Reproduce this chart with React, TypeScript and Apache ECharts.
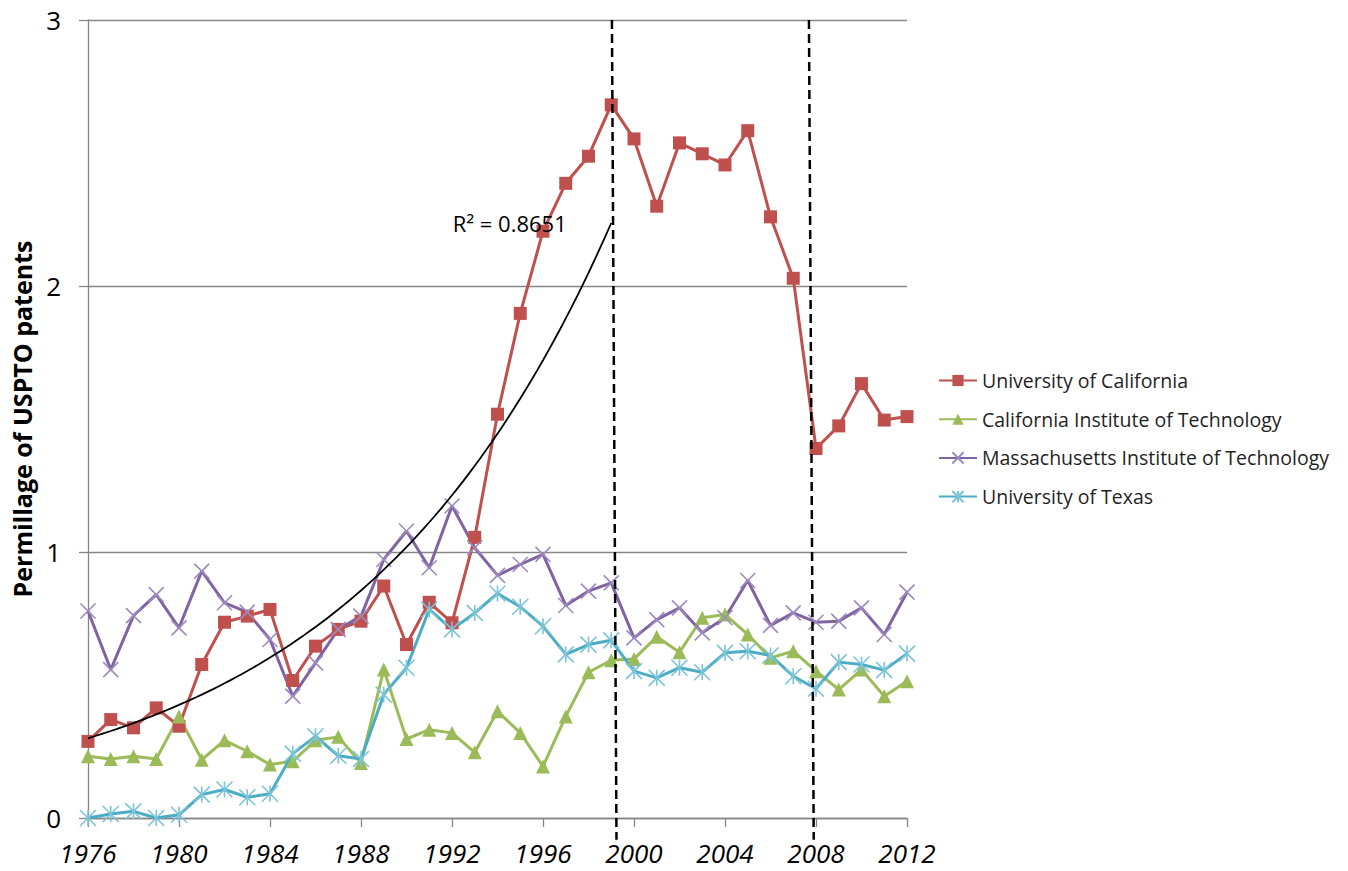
import React, { useEffect, useRef } from "react";
import * as echarts from "echarts";

const years = [
  1976, 1977, 1978, 1979, 1980, 1981, 1982, 1983, 1984, 1985, 1986, 1987, 1988,
  1989, 1990, 1991, 1992, 1993, 1994, 1995, 1996, 1997, 1998, 1999, 2000, 2001,
  2002, 2003, 2004, 2005, 2006, 2007, 2008, 2009, 2010, 2011, 2012,
];

const ucValues = [
  0.288, 0.37, 0.339, 0.414, 0.345, 0.577, 0.736, 0.759, 0.784, 0.517, 0.646,
  0.709, 0.74, 0.872, 0.652, 0.811, 0.734, 1.055, 1.518, 1.897, 2.206, 2.386,
  2.488, 2.681, 2.553, 2.3, 2.538, 2.497, 2.455, 2.584, 2.26, 2.029, 1.389,
  1.474, 1.633, 1.496, 1.509,
];

const caltechValues = [
  0.232, 0.222, 0.232, 0.222, 0.382, 0.219, 0.292, 0.251, 0.201, 0.213, 0.292,
  0.305, 0.207, 0.558, 0.297, 0.332, 0.32, 0.247, 0.401, 0.32, 0.194, 0.382,
  0.548, 0.593, 0.598, 0.681, 0.623, 0.753, 0.765, 0.69, 0.602, 0.627, 0.552,
  0.483, 0.558, 0.458, 0.514,
];

const mitValues = [
  0.778, 0.558, 0.761, 0.84, 0.715, 0.928, 0.809, 0.774, 0.671, 0.458, 0.583,
  0.709, 0.759, 0.972, 1.079, 0.941, 1.173, 1.016, 0.912, 0.953, 0.991, 0.799,
  0.853, 0.884, 0.677, 0.746, 0.79, 0.696, 0.753, 0.893, 0.724, 0.771, 0.736,
  0.74, 0.79, 0.69, 0.849,
];

const utValues = [
  0.0, 0.015, 0.025, 0.0, 0.012, 0.088, 0.107, 0.078, 0.091, 0.242, 0.307,
  0.234, 0.222, 0.464, 0.565, 0.784, 0.709, 0.771, 0.844, 0.794, 0.721, 0.615,
  0.652, 0.668, 0.552, 0.527, 0.565, 0.548, 0.621, 0.627, 0.611, 0.533, 0.486,
  0.586, 0.577, 0.556, 0.618,
];

const seriesNames = [
  "University of California",
  "California Institute of Technology",
  "Massachusetts Institute of Technology",
  "University of Texas",
];

// Exponential trend fitted to University of California, 1976–1999
const trendStartYear = 1976;
const trendEndYear = 1999;
const trendLabel = "R² = 0.8651";

// Dashed reference lines: [xTop, yTop, xBottom, yBottom]
const dashedLines = [
  [1999.03, 3, 1999.23, -0.082],
  [2007.69, 3, 2007.9, -0.082],
];

function fitExponential(xs: number[], ys: number[]) {
  const n = xs.length;
  const lx = xs.map((x) => x - xs[0]);
  const ly = ys.map((y) => Math.log(y));
  const mx = lx.reduce((a, b) => a + b, 0) / n;
  const my = ly.reduce((a, b) => a + b, 0) / n;
  let sxy = 0;
  let sxx = 0;
  for (let i = 0; i < n; i++) {
    sxy += (lx[i] - mx) * (ly[i] - my);
    sxx += (lx[i] - mx) * (lx[i] - mx);
  }
  const b = sxy / sxx;
  const a = Math.exp(my - b * mx);
  return { a, b, x0: xs[0] };
}

const FONT = "'Open Sans', sans-serif";

export default function App() {
  const ref = useRef<HTMLDivElement>(null);

  useEffect(() => {
    if (!ref.current) return;
    const chart = echarts.init(ref.current, undefined, { renderer: "svg" });

    const fitIdx = years
      .map((y, i) => i)
      .filter((i) => years[i] >= trendStartYear && years[i] <= trendEndYear);
    const fit = fitExponential(
      fitIdx.map((i) => years[i]),
      fitIdx.map((i) => ucValues[i])
    );
    const trendData: number[][] = [];
    for (let t = trendStartYear; t <= trendEndYear + 1e-9; t += 0.25) {
      trendData.push([t, fit.a * Math.exp(fit.b * (t - fit.x0))]);
    }
    const trendEnd = trendData[trendData.length - 1];

    const pair = (vals: number[]) => years.map((y, i) => [y, vals[i]]);

    const xPath = "path://M0,0L10,10M10,0L0,10";
    const starPath = "path://M0,0L10,10M10,0L0,10M5,0L5,10";

    const option: any = {
      animation: false,
      backgroundColor: "#ffffff",
      grid: { left: 88, top: 20, right: 441, bottom: 53, containLabel: false },
      legend: {
        orient: "vertical",
        left: 933,
        top: 364,
        itemWidth: 38,
        itemHeight: 14,
        itemGap: 15.7,
        textStyle: {
          fontFamily: FONT,
          fontSize: 19.5,
          color: "#1f1f1f",
          lineHeight: 23,
        },
        data: seriesNames,
      },
      xAxis: {
        type: "value",
        min: 1976,
        max: 2012,
        interval: 4,
        axisLine: { show: true, lineStyle: { color: "#868686", width: 1.3 } },
        axisTick: { show: true, length: 9, lineStyle: { color: "#868686", width: 1.3 } },
        splitLine: { show: false },
        axisLabel: {
          fontFamily: FONT,
          fontSize: 26,
          fontStyle: "italic",
          color: "#000",
          margin: 22,
          formatter: (v: number) => String(v),
        },
      },
      yAxis: {
        type: "value",
        min: 0,
        max: 3,
        interval: 1,
        name: "Permillage of USPTO patents",
        nameLocation: "middle",
        nameGap: 54,
        nameRotate: 90,
        nameTextStyle: {
          fontFamily: FONT,
          fontSize: 25,
          fontWeight: "bold",
          color: "#000",
        },
        axisLine: { show: true, lineStyle: { color: "#868686", width: 1.3 } },
        axisTick: { show: true, length: 9, lineStyle: { color: "#868686", width: 1.3 } },
        splitLine: { show: true, lineStyle: { color: "#868686", width: 1.3 } },
        axisLabel: {
          fontFamily: FONT,
          fontSize: 26,
          color: "#000",
          margin: 27,
        },
      },
      series: [
        {
          name: seriesNames[0],
          type: "line",
          data: pair(ucValues),
          symbol: "rect",
          symbolSize: 13,
          lineStyle: { color: "#C0504D", width: 3 },
          itemStyle: { color: "#C0504D" },
          z: 3,
        },
        {
          name: seriesNames[1],
          type: "line",
          data: pair(caltechValues),
          symbol: "triangle",
          symbolSize: 14,
          lineStyle: { color: "#9BBB59", width: 3 },
          itemStyle: { color: "#9BBB59" },
          z: 3,
        },
        {
          name: seriesNames[2],
          type: "line",
          data: pair(mitValues),
          symbol: xPath,
          symbolSize: 15,
          lineStyle: { color: "#8064A2", width: 3 },
          itemStyle: { color: "#8064A2", borderColor: "#9d8bbf", borderWidth: 1.6 },
          z: 3,
        },
        {
          name: seriesNames[3],
          type: "line",
          data: pair(utValues),
          symbol: starPath,
          symbolSize: 16,
          lineStyle: { color: "#4BACC6", width: 3 },
          itemStyle: { color: "#4BACC6", borderColor: "#7cc4d8", borderWidth: 1.6 },
          z: 3,
        },
        {
          name: "trend",
          type: "line",
          data: trendData,
          showSymbol: false,
          symbol: "none",
          smooth: false,
          lineStyle: { color: "#000", width: 1.8 },
          z: 4,
          markPoint: {
            symbol: "circle",
            symbolSize: 1,
            itemStyle: { color: "rgba(0,0,0,0)" },
            label: {
              show: true,
              position: "left",
              distance: 44,
              formatter: trendLabel,
              fontFamily: FONT,
              fontSize: 22,
              color: "#000",
            },
            data: [{ coord: trendEnd }],
          },
        },
        {
          name: "dashed",
          type: "custom",
          clip: false,
          z: 5,
          data: dashedLines,
          renderItem: (params: any, api: any) => {
            const p1 = api.coord([api.value(0), api.value(1)]);
            const p2 = api.coord([api.value(2), api.value(3)]);
            return {
              type: "line",
              shape: { x1: p1[0], y1: p1[1], x2: p2[0], y2: p2[1] },
              style: { stroke: "#000", lineWidth: 2.5, lineDash: [9, 5] },
            };
          },
        },
      ],
    };

    chart.setOption(option);
    return () => chart.dispose();
  }, []);

  return (
    <div
      ref={ref}
      style={{ position: "absolute", left: 0, top: 0, width: 1348, height: 871 }}
    />
  );
}
